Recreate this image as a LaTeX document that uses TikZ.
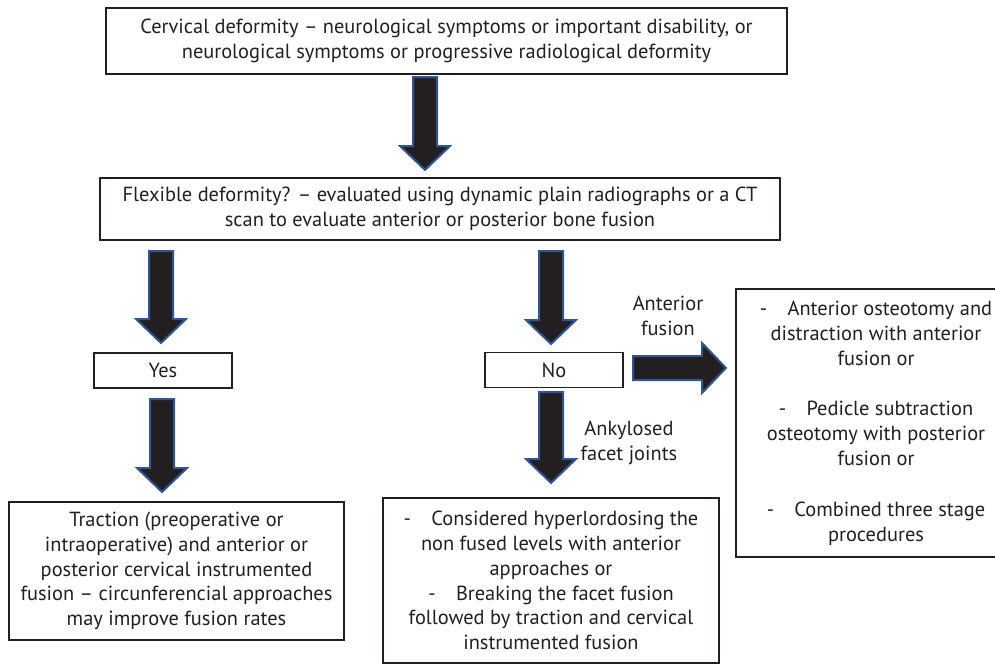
\documentclass[tikz,border=0pt]{standalone}
\usepackage{fontspec}
\setmainfont{PT Sans}
\usepackage{xcolor}
\definecolor{inkdark}{RGB}{35, 31, 32}
\definecolor{arrowblue}{RGB}{47, 85, 151}
\usetikzlibrary{
  arrows.meta,
  positioning,
  calc
}

\tikzset{
  flowbox/.style={draw=inkdark, line width=0.8pt, fill=white, align=center,
    inner sep=0pt, font=\fontsize{10.2}{12.4}\selectfont, text=inkdark},
  blockarrow/.style={fill=inkdark, draw=arrowblue, line width=1pt, line join=miter},
  sidelabel/.style={align=center, font=\fontsize{10.2}{12.4}\selectfont, text=inkdark}
}

% big block arrow from one named point to another
\newcommand{\blockarrow}[2]{%
  \coordinate (ba-head) at ($(#2)!12pt!(#1)$);
  \filldraw[blockarrow] ($(#1)!6pt!90:(#2)$) -- ($(ba-head)!6pt!90:(#2)$)
    -- ($(ba-head)!12.5pt!90:(#2)$) -- (#2) -- ($(ba-head)!12.5pt!-90:(#2)$)
    -- ($(ba-head)!6pt!-90:(#2)$) -- ($(#1)!6pt!-90:(#2)$) -- cycle;
}

\begin{document}
\begin{tikzpicture}[x=0.5pt, y=-0.5pt]
  \useasboundingbox (0,0) rectangle (995,664);
  \clip (0,0) rectangle (995,664);

  % boxes
  \node[flowbox, minimum width=340.5pt, minimum height=33pt] (deform) at (446.5, 41)
    {Cervical deformity -- neurological symptoms or important disability, or\\
     neurological symptoms or progressive radiological deformity};
  \node[flowbox, minimum width=340pt, minimum height=31pt] (flex) at (440, 209)
    {Flexible deformity? -- evaluated using dynamic plain radiographs or a CT\\
     scan to evaluate anterior or posterior bone fusion};
  \node[flowbox, minimum width=69pt, minimum height=17.5pt] (yes) at (163, 370.5) {Yes};
  \node[flowbox, minimum width=69pt, minimum height=17.5pt] (no) at (554, 370) {No};
  \node[flowbox, minimum width=167.5pt, minimum height=69pt] (traction) at (176.5, 571)
    {Traction (preoperative or\\
     intraoperative) and anterior or\\
     posterior cervical instrumented\\
     fusion -- circunferencial approaches\\
     may improve fusion rates};
  \node[flowbox, minimum width=168pt, minimum height=82.5pt] (ankyl) at (551, 580.5)
    {-\quad Considered hyperlordosing the\\
     non fused levels with anterior\\
     approaches or\\
     -\quad Breaking the facet fusion\\
     followed by traction and cervical\\
     instrumented fusion};
  \node[flowbox, minimum width=140pt, minimum height=134pt] (osteo) at (876, 423)
    {-\quad Anterior osteotomy and\\
     distraction with anterior\\
     fusion or\\[13pt]
     -\quad Pedicle subtraction\\
     osteotomy with posterior\\
     fusion or\\[13pt]
     -\quad Combined three stage\\
     procedures};

  % arrow labels
  \node[sidelabel] (antlab) at (668, 316) {Anterior\\fusion};
  \node[sidelabel] (anklab) at (629, 443) {Ankylosed\\facet joints};

  % arrow ends
  \coordinate (a1s) at (425, 77);  \coordinate (a1e) at (425, 170);
  \coordinate (a2s) at (161, 251); \coordinate (a2e) at (161, 343);
  \coordinate (a3s) at (162, 399); \coordinate (a3e) at (162, 492);
  \coordinate (a4s) at (551, 251); \coordinate (a4e) at (551, 344);
  \coordinate (a5s) at (551, 392); \coordinate (a5e) at (551, 483);
  \coordinate (a6s) at (633, 368); \coordinate (a6e) at (726, 368);

  \blockarrow{a1s}{a1e}
  \blockarrow{a2s}{a2e}
  \blockarrow{a3s}{a3e}
  \blockarrow{a4s}{a4e}
  \blockarrow{a5s}{a5e}
  \blockarrow{a6s}{a6e}
\end{tikzpicture}
\end{document}
